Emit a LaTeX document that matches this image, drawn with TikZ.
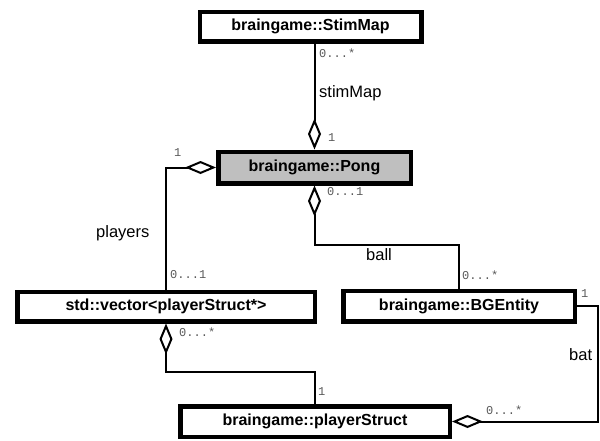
\documentclass[tikz,border=0pt]{standalone}
\usepackage{fontspec}
\setmainfont{Liberation Sans}
\newfontfamily\multfont{Liberation Mono}
\usetikzlibrary{arrows.meta}
\tikzset{
  classbox/.style={draw=black, line width=4.5pt, fill=white, inner sep=0pt,
    font=\fontsize{16}{18}\selectfont\bfseries},
  assoc/.style={line width=2pt, line join=miter},
  aggr/.style={assoc, {Diamond[open, length=31pt, width=13pt, line width=2pt]}-},
  aggrend/.style={assoc, -{Diamond[open, length=31pt, width=13pt, line width=2pt]}},
  mult/.style={anchor=west, inner sep=0pt, text=black!65,
    font=\fontsize{12}{14}\selectfont\multfont},
  rolename/.style={anchor=west, inner sep=0pt,
    font=\fontsize{16.5}{18}\selectfont}
}
\begin{document}
\begin{tikzpicture}[x=1pt, y=-1pt]
\useasboundingbox[fill=white] (0,0) rectangle (600,440);

% classes (outer size minus border width)
\node[classbox, minimum width=221.5pt, minimum height=29.5pt] (stim) at (310.5,26.5) {braingame::StimMap};
\node[classbox, fill=black!25, minimum width=192.5pt, minimum height=31.5pt] (pong) at (314.5,167.5) {braingame::Pong};
\node[classbox, minimum width=297.5pt, minimum height=29.5pt] (vec) at (166,306.5) {std::vector<playerStruct*>};
\node[classbox, minimum width=231.5pt, minimum height=30.5pt] (bge) at (459,306) {braingame::BGEntity};
\node[classbox, minimum width=269.5pt, minimum height=30.5pt] (ps) at (315,421.5) {braingame::playerStruct};

% bend points
\coordinate (ballA) at (314.5,245);
\coordinate (ballB) at (459,245);
\coordinate (vecA) at (166,372);
\coordinate (vecB) at (315,372);
\coordinate (batA) at (598,306);

% associations
\draw[aggr] (pong.north) -- (pong.north |- stim.south);
\draw[aggr] (pong.west) -| (vec.north);
\draw[aggr] (pong.south) -- (ballA) -- (ballB) -- (bge.north);
\draw[aggr] (vec.south) -- (vecA) -- (vecB) -- (ps.north);
\draw[aggrend] (bge.east) -- (batA) |- (ps.east);

% role names
\node[rolename] (lstim) at (319,93) {stimMap};
\node[rolename] (lplay) at (96,233) {players};
\node[rolename] (lball) at (366,255) {ball};
\node[rolename] (lbat) at (569,355) {bat};

% multiplicities
\node[mult] (m1) at (319,53) {0...*};
\node[mult] (m2) at (328,138) {1};
\node[mult] (m3) at (174,153) {1};
\node[mult] (m4) at (170,275) {0...1};
\node[mult] (m5) at (327,192) {0...1};
\node[mult] (m6) at (462,275) {0...*};
\node[mult] (m7) at (581,294) {1};
\node[mult] (m8) at (486,410) {0...*};
\node[mult] (m9) at (179,332) {0...*};
\node[mult] (m10) at (318,392) {1};
\end{tikzpicture}
\end{document}
